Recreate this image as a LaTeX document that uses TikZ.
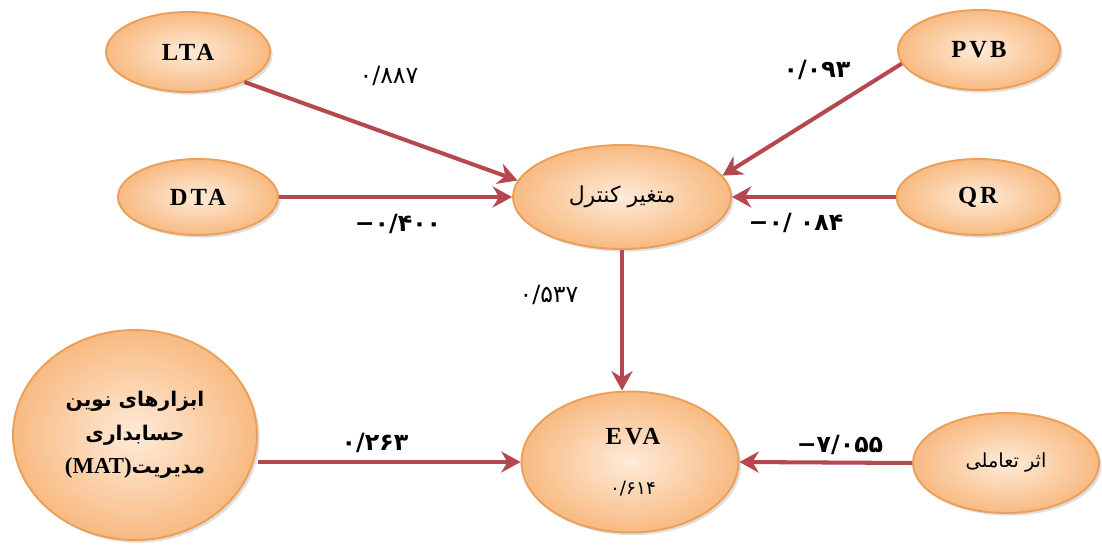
\documentclass[tikz,border=0pt]{standalone}
\usepackage{fontspec}
\setmainfont{Liberation Serif}
\newfontfamily\latinwide[LetterSpace=12]{Liberation Serif}
\newfontfamily\arabicfont[Script=Arabic]{DejaVu Sans}
\newfontfamily\digitfont{DejaVu Sans}
\TeXXeTstate=1
\usetikzlibrary{shapes.geometric,arrows.meta,shadows}
\definecolor{peachfill}{HTML}{F8BA82}
\definecolor{peachlight}{HTML}{FEEBD8}
\definecolor{peachedge}{HTML}{EBA05A}
\definecolor{linkred}{HTML}{B5484F}

\begin{document}
\begin{tikzpicture}[x=0.02cm,y=-0.02cm,
	var/.style={ellipse,draw=peachedge,line width=1.1pt,inner sep=0pt,
		inner color=peachlight,outer color=peachfill,
		drop shadow={shadow xshift=1.5pt,shadow yshift=-1.5pt,opacity=0.25},
		font=\latinwide\fontsize{14}{16}\selectfont\bfseries},
	link/.style={draw=linkred,line width=2.3pt,-{Stealth[length=11pt,width=12pt]}},
	coef/.style={font=\digitfont\fontsize{13.5}{15}\selectfont\bfseries},
	coeflight/.style={font=\digitfont\fontsize{13.5}{15}\selectfont}]
	\useasboundingbox (0,0) rectangle (1102,550);

	\node[var,minimum width=3.28cm,minimum height=1.6cm] (lta) at (188,52) {LTA};
	\node[var,minimum width=3.2cm,minimum height=1.52cm] (dta) at (198,197) {DTA};
	\node[var,minimum width=3.24cm,minimum height=1.6cm] (pvb) at (979,50) {PVB};
	\node[var,minimum width=3.26cm,minimum height=1.52cm] (qr) at (978,197) {QR};
	\node[var,minimum width=4.36cm,minimum height=2.08cm,font=\arabicfont\fontsize{12.5}{14}\selectfont] (ctrl) at (622,197) {\beginR متغیر کنترل\endR};
	\node[var,minimum width=4.34cm,minimum height=2.82cm] (eva) at (630,462) {};
	\node (evaname) at (633,437) {\latinwide\fontsize{14}{16}\selectfont\bfseries EVA};
	\node[font=\digitfont\fontsize{10.5}{12}\selectfont] (evarsq) at (633,489) {۰/۶۱۴};
	\node[var,minimum width=4.88cm,minimum height=4.2cm,align=center,font=\arabicfont\fontsize{11.5}{19}\selectfont\bfseries] (mat) at (135,435)
		{\beginR ابزارهای نوین\endR\\حسابداری\\{\fontspec{Liberation Serif}\fontsize{13}{19}\selectfont\bfseries (MAT)}مدیریت};
	\node[var,minimum width=3.72cm,minimum height=2cm,font=\arabicfont\fontsize{11}{14}\selectfont] (inter) at (1006,463) {\beginR اثر تعاملی\endR};

	\draw[link] (lta.-28) -- (ctrl.171);
	\draw[link] (dta.east) -- (ctrl.west);
	\draw[link] (pvb.190) -- (ctrl.12);
	\draw[link] (qr.west) -- (ctrl.east);
	\draw[link] (ctrl.south) -- (ctrl.south |- eva.north);
	\draw[link] (eva.west -| mat.east) -- (eva.west);
	\draw[link] (inter.west) -- (eva.east);

	\node[coeflight] (w1) at (389,76) {۰/۸۸۷};
	\node[coef] (w2) at (817,70) {۰/۰۹۳};
	\node[coef] (w3) at (398,224) {−۰/۴۰۰};
	\node[coef] (w4) at (796,223) {\beginL−۰/ ۰۸۴\endL};
	\node[coeflight] (w5) at (549,295) {۰/۵۳۷};
	\node[coef] (w6) at (375,443) {۰/۲۶۳};
	\node[coef] (w7) at (840,445) {−۷/۰۵۵};
\end{tikzpicture}
\end{document}
